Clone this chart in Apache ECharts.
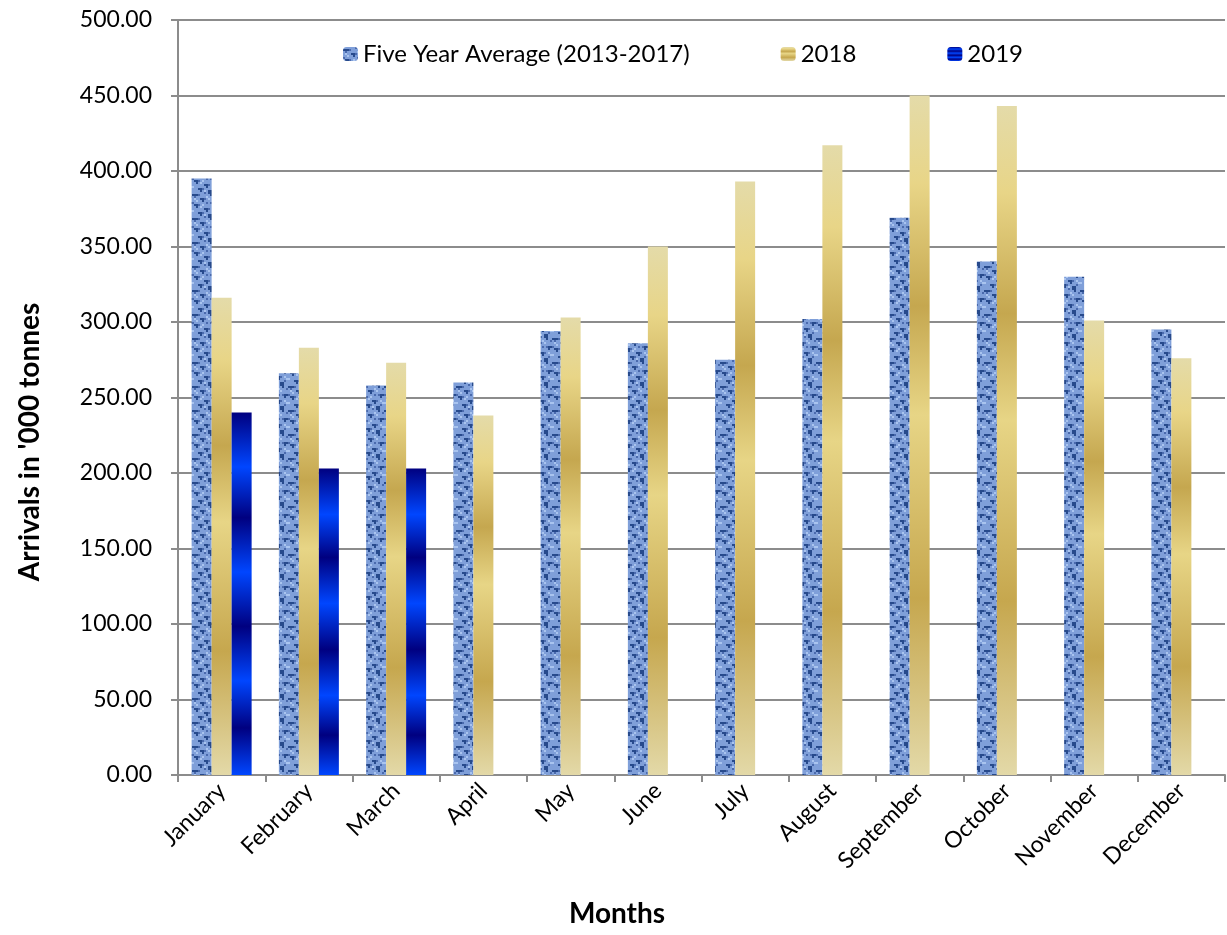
<!DOCTYPE html>
<html>
<head>
<meta charset="utf-8">
<script src="https://cdn.jsdelivr.net/npm/echarts@6/dist/echarts.min.js"></script>
<style>
  html, body { margin: 0; padding: 0; background: #fff; }
  #chart { width: 1227px; height: 935px; }
</style>
</head>
<body>
<div id="chart"></div>
<script>
const months = ["January", "February", "March", "April", "May", "June", "July",
  "August", "September", "October", "November", "December"];
const fiveYearAvg = [395, 266, 258, 260, 294, 286, 275, 302, 369, 340, 330, 295];
const arrivals2018 = [316, 283, 273, 238, 303, 350, 393, 417, 450, 443, 301, 276];
const arrivals2019 = [240, 203, 203, null, null, null, null, null, null, null, null, null];
const seriesNames = ["Five Year Average (2013-2017)", "2018", "2019"];

// blue blotchy texture for the five-year bars (fixed pattern, drawn in 2px cells)
function makeTexture() {
  const c = document.createElement("canvas");
  const s = 2;
  c.width = 12 * s; c.height = 12 * s;
  const ctx = c.getContext("2d");
  ctx.fillStyle = "#7f9fd9";
  ctx.fillRect(0, 0, c.width, c.height);
  const dark = [[0,1],[1,1],[2,1],[4,3],[5,3],[5,4],[8,0],[9,0],[9,1],[1,6],[2,6],[2,7],
    [6,8],[7,8],[7,9],[10,5],[11,5],[10,6],[3,10],[4,10],[4,11],[8,11],[9,11]];
  const mid = [[3,1],[6,3],[0,5],[3,6],[8,8],[9,5],[5,10],[10,10],[11,2],[6,0],[1,2],[7,5]];
  const light = [[1,3],[7,2],[4,7],[10,8],[0,9],[6,11],[2,4],[8,3],[11,9],[5,6]];
  const cell = (list, col) => {
    ctx.fillStyle = col;
    list.forEach(p => ctx.fillRect(p[0] * s, p[1] * s, s, s));
  };
  cell(mid, "#4a6aad");
  cell(dark, "#274a8c");
  cell(light, "#a9c4ef");
  return c;
}

const goldGradient = new echarts.graphic.LinearGradient(0, 0, 0, 1, [
  { offset: 0, color: "#e4dba9" },
  { offset: 0.13, color: "#e8d587" },
  { offset: 0.31, color: "#c5a74f" },
  { offset: 0.47, color: "#e7d586" },
  { offset: 0.74, color: "#c6a74e" },
  { offset: 1, color: "#e3d9a8" }
]);

const blueGradient = new echarts.graphic.LinearGradient(0, 0, 0, 1, [
  { offset: 0, color: "#000080" },
  { offset: 0.15, color: "#0046ff" },
  { offset: 0.29, color: "#000080" },
  { offset: 0.44, color: "#0046ff" },
  { offset: 0.59, color: "#000080" },
  { offset: 0.74, color: "#0046ff" },
  { offset: 0.87, color: "#000080" },
  { offset: 1, color: "#0046ff" }
]);

const FONT = "Lato";
const myChart = echarts.init(document.getElementById("chart"));

const option = {
  animation: false,
  textStyle: { fontFamily: FONT },
  legend: {
    top: 37,
    left: 338,
    itemGap: 91,
    itemWidth: 15,
    itemHeight: 14,
    textStyle: { fontSize: 24, color: "#000", fontFamily: FONT },
    data: seriesNames
  },
  grid: { left: 178, right: 2, top: 20, bottom: 160, containLabel: false },
  xAxis: {
    type: "category",
    data: months,
    axisLine: { lineStyle: { color: "#8c8c8c", width: 2 } },
    axisTick: { show: true, length: 7, lineStyle: { color: "#8c8c8c", width: 2 } },
    axisLabel: { rotate: 45, fontSize: 23, color: "#000", margin: 12, fontFamily: FONT }
  },
  yAxis: {
    type: "value",
    min: 0,
    max: 500,
    interval: 50,
    axisLine: { show: true, lineStyle: { color: "#8c8c8c", width: 2 } },
    axisTick: { show: true, length: 7, lineStyle: { color: "#8c8c8c", width: 2 } },
    axisLabel: {
      fontSize: 23, color: "#000", margin: 26, fontFamily: FONT,
      formatter: v => v.toFixed(2)
    },
    splitLine: { lineStyle: { color: "#8c8c8c", width: 2 } }
  },
  graphic: [
    {
      type: "text", x: 30, y: 442, rotation: Math.PI / 2,
      style: {
        text: "Arrivals in '000 tonnes", fontSize: 28, fontWeight: "bold",
        fill: "#000", fontFamily: FONT, align: "center", verticalAlign: "middle"
      }
    },
    {
      type: "text", x: 617, y: 914,
      style: {
        text: "Months", fontSize: 28, fontWeight: "bold", fill: "#000",
        fontFamily: FONT, align: "center", verticalAlign: "middle"
      }
    }
  ],
  series: [
    {
      name: seriesNames[0], type: "bar", data: fiveYearAvg, barWidth: 20, barGap: "0%",
      itemStyle: { color: { image: makeTexture(), repeat: "repeat" } }
    },
    {
      name: seriesNames[1], type: "bar", data: arrivals2018, barWidth: 20, barGap: "0%",
      itemStyle: { color: goldGradient }
    },
    {
      name: seriesNames[2], type: "bar", data: arrivals2019, barWidth: 20, barGap: "0%",
      itemStyle: { color: blueGradient }
    }
  ]
};

myChart.setOption(option);
</script>
</body>
</html>
